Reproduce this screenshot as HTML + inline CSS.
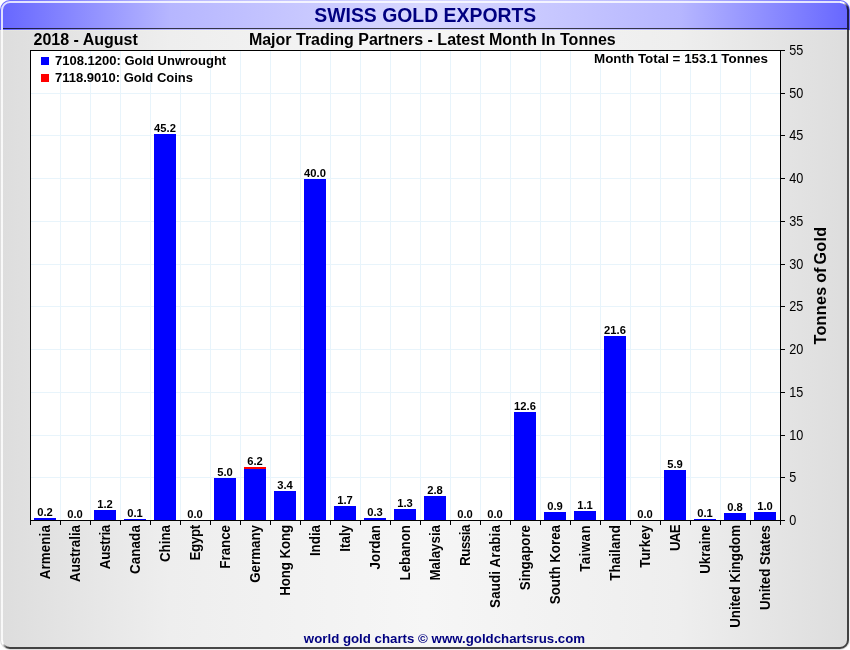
<!DOCTYPE html>
<html><head><meta charset="utf-8"><title>Swiss Gold Exports</title>
<style>
html,body{margin:0;padding:0;background:#fff;}
body{width:850px;height:650px;overflow:hidden;}
svg{display:block;font-family:"Liberation Sans",Arial,sans-serif;}
.b{font-weight:bold;}
.geo{shape-rendering:crispEdges;}
</style></head><body>
<svg width="850" height="650" viewBox="0 0 850 650">
<defs>
<linearGradient id="gt" x1="0" y1="0" x2="1" y2="0">
<stop offset="0" stop-color="#6666ff"/><stop offset="0.2" stop-color="#b6b6ff"/><stop offset="0.5" stop-color="#d8d8ff"/><stop offset="0.8" stop-color="#b6b6ff"/><stop offset="1" stop-color="#6666ff"/>
</linearGradient>
<linearGradient id="gb" x1="0" y1="0" x2="1" y2="0">
<stop offset="0" stop-color="#dddddd"/><stop offset="0.2" stop-color="#eeeeee"/><stop offset="0.5" stop-color="#f6f6f6"/><stop offset="0.8" stop-color="#eeeeee"/><stop offset="1" stop-color="#dddddd"/>
</linearGradient>
<linearGradient id="gc" x1="0" y1="0" x2="1" y2="1">
<stop offset="0.3" stop-color="#ffffff"/><stop offset="0.8" stop-color="#000000" stop-opacity="0.7"/>
</linearGradient>
<clipPath id="cp"><rect x="0" y="0" width="850" height="650" rx="10" ry="10"/></clipPath>
</defs>
<g clip-path="url(#cp)">
<rect x="0" y="0" width="850" height="30" fill="url(#gt)"/>
<rect x="0" y="30" width="850" height="620" fill="url(#gb)"/>
<rect class="geo" x="3" y="28" width="844" height="1" fill="#000" fill-opacity="0.72"/>
<rect class="geo" x="0" y="30" width="850" height="1" fill="#ffffe0" fill-opacity="0.2"/>
<rect class="geo" x="849" y="31" width="1" height="619" fill="#ffffff" fill-opacity="0.5"/>
</g>
<path d="M2 640 V10 A8 8 0 0 1 10 2 H840" fill="none" stroke="#ffffff" stroke-opacity="0.8" stroke-width="2"/>
<path d="M840 2 A8 8 0 0 1 848 10" fill="none" stroke="url(#gc)" stroke-width="2"/>
<path d="M848 10 V640 A8 8 0 0 1 840 648 H10" fill="none" stroke="#000" stroke-opacity="0.7" stroke-width="2"/>
<path d="M10 648 A8 8 0 0 1 2 640" fill="none" stroke="url(#gc)" stroke-width="2"/>

<rect class="geo" x="30" y="50" width="751" height="471" fill="#ffffff"/>
<g class="geo" fill="#e8f4fb">
<rect x="60" y="50" width="1" height="470"/>
<rect x="90" y="50" width="1" height="470"/>
<rect x="120" y="50" width="1" height="470"/>
<rect x="150" y="50" width="1" height="470"/>
<rect x="180" y="50" width="1" height="470"/>
<rect x="210" y="50" width="1" height="470"/>
<rect x="240" y="50" width="1" height="470"/>
<rect x="270" y="50" width="1" height="470"/>
<rect x="300" y="50" width="1" height="470"/>
<rect x="330" y="50" width="1" height="470"/>
<rect x="360" y="50" width="1" height="470"/>
<rect x="390" y="50" width="1" height="470"/>
<rect x="420" y="50" width="1" height="470"/>
<rect x="450" y="50" width="1" height="470"/>
<rect x="480" y="50" width="1" height="470"/>
<rect x="510" y="50" width="1" height="470"/>
<rect x="540" y="50" width="1" height="470"/>
<rect x="570" y="50" width="1" height="470"/>
<rect x="600" y="50" width="1" height="470"/>
<rect x="630" y="50" width="1" height="470"/>
<rect x="660" y="50" width="1" height="470"/>
<rect x="690" y="50" width="1" height="470"/>
<rect x="720" y="50" width="1" height="470"/>
<rect x="750" y="50" width="1" height="470"/>
<rect x="30" y="477" width="750" height="1"/>
<rect x="30" y="435" width="750" height="1"/>
<rect x="30" y="392" width="750" height="1"/>
<rect x="30" y="349" width="750" height="1"/>
<rect x="30" y="306" width="750" height="1"/>
<rect x="30" y="264" width="750" height="1"/>
<rect x="30" y="221" width="750" height="1"/>
<rect x="30" y="178" width="750" height="1"/>
<rect x="30" y="135" width="750" height="1"/>
<rect x="30" y="93" width="750" height="1"/>
</g>
<g class="geo">
<rect x="34" y="518" width="22" height="2" fill="#0000ff"/>
<rect x="94" y="510" width="22" height="10" fill="#0000ff"/>
<rect x="124" y="519" width="22" height="1" fill="#0000ff"/>
<rect x="154" y="134" width="22" height="386" fill="#0000ff"/>
<rect x="214" y="478" width="22" height="42" fill="#0000ff"/>
<rect x="244" y="467" width="22" height="2" fill="#ff0000"/>
<rect x="244" y="469" width="22" height="51" fill="#0000ff"/>
<rect x="274" y="491" width="22" height="29" fill="#0000ff"/>
<rect x="304" y="179" width="22" height="341" fill="#0000ff"/>
<rect x="334" y="506" width="22" height="14" fill="#0000ff"/>
<rect x="364" y="518" width="22" height="2" fill="#0000ff"/>
<rect x="394" y="509" width="22" height="11" fill="#0000ff"/>
<rect x="424" y="496" width="22" height="24" fill="#0000ff"/>
<rect x="514" y="412" width="22" height="108" fill="#0000ff"/>
<rect x="544" y="512" width="22" height="8" fill="#0000ff"/>
<rect x="574" y="511" width="22" height="9" fill="#0000ff"/>
<rect x="604" y="336" width="22" height="184" fill="#0000ff"/>
<rect x="664" y="470" width="22" height="50" fill="#0000ff"/>
<rect x="694" y="519" width="22" height="1" fill="#0000ff"/>
<rect x="724" y="513" width="22" height="7" fill="#0000ff"/>
<rect x="754" y="512" width="22" height="8" fill="#0000ff"/>
</g>
<g class="geo" fill="#000000">
<rect x="30" y="50" width="751" height="1"/>
<rect x="30" y="50" width="1" height="471"/>
<rect x="780" y="50" width="1" height="471"/>
<rect x="30" y="520" width="751" height="1"/>
<rect x="30" y="521" width="1" height="4"/>
<rect x="60" y="521" width="1" height="4"/>
<rect x="90" y="521" width="1" height="4"/>
<rect x="120" y="521" width="1" height="4"/>
<rect x="150" y="521" width="1" height="4"/>
<rect x="180" y="521" width="1" height="4"/>
<rect x="210" y="521" width="1" height="4"/>
<rect x="240" y="521" width="1" height="4"/>
<rect x="270" y="521" width="1" height="4"/>
<rect x="300" y="521" width="1" height="4"/>
<rect x="330" y="521" width="1" height="4"/>
<rect x="360" y="521" width="1" height="4"/>
<rect x="390" y="521" width="1" height="4"/>
<rect x="420" y="521" width="1" height="4"/>
<rect x="450" y="521" width="1" height="4"/>
<rect x="480" y="521" width="1" height="4"/>
<rect x="510" y="521" width="1" height="4"/>
<rect x="540" y="521" width="1" height="4"/>
<rect x="570" y="521" width="1" height="4"/>
<rect x="600" y="521" width="1" height="4"/>
<rect x="630" y="521" width="1" height="4"/>
<rect x="660" y="521" width="1" height="4"/>
<rect x="690" y="521" width="1" height="4"/>
<rect x="720" y="521" width="1" height="4"/>
<rect x="750" y="521" width="1" height="4"/>
<rect x="780" y="521" width="1" height="4"/>
<rect x="781" y="520" width="4" height="1"/>
<rect x="781" y="477" width="4" height="1"/>
<rect x="781" y="435" width="4" height="1"/>
<rect x="781" y="392" width="4" height="1"/>
<rect x="781" y="349" width="4" height="1"/>
<rect x="781" y="306" width="4" height="1"/>
<rect x="781" y="264" width="4" height="1"/>
<rect x="781" y="221" width="4" height="1"/>
<rect x="781" y="178" width="4" height="1"/>
<rect x="781" y="135" width="4" height="1"/>
<rect x="781" y="93" width="4" height="1"/>
<rect x="781" y="50" width="4" height="1"/>
</g>
<g class="b" font-size="11.2" text-anchor="middle" fill="#000">
<text x="45" y="516">0.2</text>
<text x="75" y="518">0.0</text>
<text x="105" y="508">1.2</text>
<text x="135" y="517">0.1</text>
<text x="165" y="132">45.2</text>
<text x="195" y="518">0.0</text>
<text x="225" y="476">5.0</text>
<text x="255" y="465">6.2</text>
<text x="285" y="489">3.4</text>
<text x="315" y="177">40.0</text>
<text x="345" y="504">1.7</text>
<text x="375" y="516">0.3</text>
<text x="405" y="507">1.3</text>
<text x="435" y="494">2.8</text>
<text x="465" y="518">0.0</text>
<text x="495" y="518">0.0</text>
<text x="525" y="410">12.6</text>
<text x="555" y="510">0.9</text>
<text x="585" y="509">1.1</text>
<text x="615" y="334">21.6</text>
<text x="645" y="518">0.0</text>
<text x="675" y="468">5.9</text>
<text x="705" y="517">0.1</text>
<text x="735" y="511">0.8</text>
<text x="765" y="510">1.0</text>
</g>
<g font-size="13.33" fill="#000">
<text transform="translate(789.3,524.8) scale(0.95,1.06)">0</text>
<text transform="translate(789.3,481.8) scale(0.95,1.06)">5</text>
<text transform="translate(789.3,439.8) scale(0.95,1.06)">10</text>
<text transform="translate(789.3,396.8) scale(0.95,1.06)">15</text>
<text transform="translate(789.3,353.8) scale(0.95,1.06)">20</text>
<text transform="translate(789.3,310.8) scale(0.95,1.06)">25</text>
<text transform="translate(789.3,268.8) scale(0.95,1.06)">30</text>
<text transform="translate(789.3,225.8) scale(0.95,1.06)">35</text>
<text transform="translate(789.3,182.8) scale(0.95,1.06)">40</text>
<text transform="translate(789.3,139.8) scale(0.95,1.06)">45</text>
<text transform="translate(789.3,97.8) scale(0.95,1.06)">50</text>
<text transform="translate(789.3,54.8) scale(0.95,1.06)">55</text>
</g>
<g class="b" font-size="13.33" text-anchor="end" fill="#000">
<text transform="translate(50,525) rotate(-90) scale(1,1.08)" letter-spacing="0.143">Armenia</text>
<text transform="translate(80,525) rotate(-90) scale(1,1.08)">Australia</text>
<text transform="translate(110,525) rotate(-90) scale(1,1.08)" letter-spacing="-0.243">Austria</text>
<text transform="translate(140,525) rotate(-90) scale(1,1.08)" letter-spacing="0.167">Canada</text>
<text transform="translate(170,525) rotate(-90) scale(1,1.08)">China</text>
<text transform="translate(200,525) rotate(-90) scale(1,1.08)" letter-spacing="-0.300">Egypt</text>
<text transform="translate(230,525) rotate(-90) scale(1,1.08)">France</text>
<text transform="translate(260,525) rotate(-90) scale(1,1.08)">Germany</text>
<text transform="translate(290,525) rotate(-90) scale(1,1.08)" letter-spacing="-0.111">Hong Kong</text>
<text transform="translate(320,525) rotate(-90) scale(1,1.08)">India</text>
<text transform="translate(350,525) rotate(-90) scale(1,1.08)">Italy</text>
<text transform="translate(380,525) rotate(-90) scale(1,1.08)">Jordan</text>
<text transform="translate(410,525) rotate(-90) scale(1,1.08)">Lebanon</text>
<text transform="translate(440,525) rotate(-90) scale(1,1.08)">Malaysia</text>
<text transform="translate(470,525) rotate(-90) scale(1,1.08)" letter-spacing="-0.450">Russia</text>
<text transform="translate(500,525) rotate(-90) scale(1,1.08)" letter-spacing="0.167">Saudi Arabia</text>
<text transform="translate(530,525) rotate(-90) scale(1,1.08)">Singapore</text>
<text transform="translate(560,525) rotate(-90) scale(1,1.08)">South Korea</text>
<text transform="translate(590,525) rotate(-90) scale(1,1.08)" letter-spacing="0.450">Taiwan</text>
<text transform="translate(620,525) rotate(-90) scale(1,1.08)" letter-spacing="0.125">Thailand</text>
<text transform="translate(650,525) rotate(-90) scale(1,1.08)">Turkey</text>
<text transform="translate(680,525) rotate(-90) scale(1,1.08)" letter-spacing="-0.667">UAE</text>
<text transform="translate(710,525) rotate(-90) scale(1,1.08)">Ukraine</text>
<text transform="translate(740,525) rotate(-90) scale(1,1.08)">United Kingdom</text>
<text transform="translate(770,525) rotate(-90) scale(1,1.08)">United States</text>
</g>
<g class="b" font-size="16.2"><text transform="translate(826,344.6) rotate(-90)" letter-spacing="0.3">Tonnes</text><text transform="translate(826,282.8) rotate(-90)">of</text><text transform="translate(826,264.6) rotate(-90)" letter-spacing="0.3">Gold</text></g>
<text class="b" font-size="19.4" x="425.3" y="22" text-anchor="middle" fill="#000080">SWISS GOLD EXPORTS</text>
<text class="b" font-size="16" x="33.5" y="44.5">2018 - August</text>
<text class="b" font-size="16" x="432.3" y="44.5" text-anchor="middle">Major Trading Partners - Latest Month In Tonnes</text>
<text class="b" font-size="13.4" x="768" y="63" text-anchor="end">Month Total = 153.1 Tonnes</text>
<rect class="geo" x="41" y="57" width="8" height="8" fill="#0000ff"/>
<rect class="geo" x="41" y="74" width="8" height="8" fill="#ff0000"/>
<text class="b" font-size="13" x="55" y="65.4">7108.1200: Gold Unwrought</text>
<text class="b" font-size="13" x="55" y="82.4">7118.9010: Gold Coins</text>
<text class="b" font-size="13.27" x="444.5" y="643" text-anchor="middle" fill="#000080">world gold charts © www.goldchartsrus.com</text>
</svg></body></html>
